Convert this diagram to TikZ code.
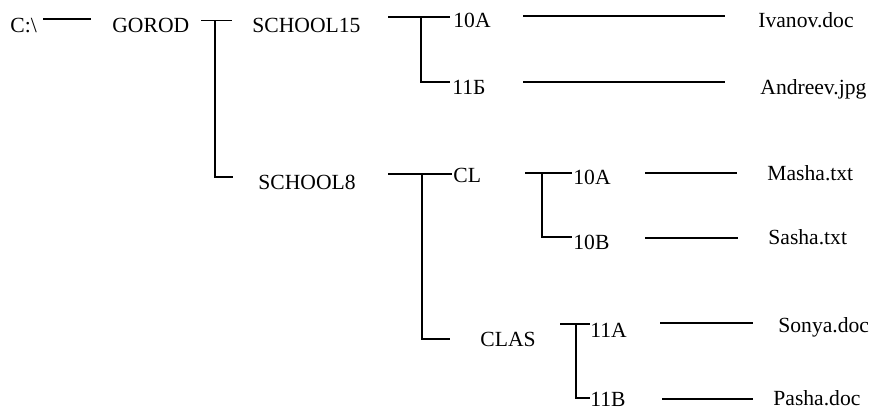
\documentclass[tikz,border=0pt]{standalone}
\usepackage{fontspec}
\setmainfont{Liberation Serif}
\usepackage{tikz}

\tikzset{
  entry/.style={anchor=base west, inner sep=0pt, font=\fontsize{10.8}{13}\selectfont},
  branch/.style={line width=0.9pt}
}

\begin{document}
\begin{tikzpicture}[x=0.5pt, y=-0.5pt]
        % Page frame (1 unit = 1 pixel of the picture)
        \useasboundingbox (0,0) rectangle (871,410);

        % Folder and file names
        \node[entry] (cdrive) at (10,33) {C:\textbackslash};
        \node[entry] (gorod) at (112,33) {GOROD};
        \node[entry] (school15) at (252,33) {SCHOOL15};
        \node[entry] (school8) at (258,190) {SCHOOL8};
        \node[entry] (k10a) at (453,28) {10A};
        \node[entry] (k11b) at (452,95) {11Б};
        \node[entry] (ivanov) at (758,28) {Ivanov.doc};
        \node[entry] (andreev) at (760,95) {Andreev.jpg};
        \node[entry] (cl) at (453,183) {CL};
        \node[entry] (cl10a) at (573,185) {10A};
        \node[entry] (cl10b) at (573,250) {10B};
        \node[entry] (masha) at (767,181) {Masha.txt};
        \node[entry] (sasha) at (768,245) {Sasha.txt};
        \node[entry] (clas) at (480,347) {CLAS};
        \node[entry] (cs11a) at (590,338) {11A};
        \node[entry] (cs11b) at (590,407) {11B};
        \node[entry] (sonya) at (778,333) {Sonya.doc};
        \node[entry] (pasha) at (773,406) {Pasha.doc};

        % Line ends and corners of the tree
        \coordinate (root-a) at (43,19);
        \coordinate (root-b) at (91,19);
        \coordinate (gor-l) at (201,20.5);
        \coordinate (gor-r) at (232,20.5);
        \coordinate (gor-t) at (215,20.5);
        \coordinate (gor-b) at (215,177);
        \coordinate (gor-e) at (233,177);
        \coordinate (s15-l) at (388,17);
        \coordinate (s15-r) at (450,17);
        \coordinate (s15-t) at (421,17);
        \coordinate (s15-b) at (421,82);
        \coordinate (s15-e) at (450,82);
        \coordinate (s8-l) at (388,174);
        \coordinate (s8-r) at (452,174);
        \coordinate (s8-t) at (422,174);
        \coordinate (s8-b) at (422,339);
        \coordinate (s8-e) at (450,339);
        \coordinate (cl-l) at (525,173);
        \coordinate (cl-r) at (572,173);
        \coordinate (cl-t) at (542,173);
        \coordinate (cl-b) at (542,237);
        \coordinate (cl-e) at (572,237);
        \coordinate (cs-l) at (560,324);
        \coordinate (cs-r) at (590,324);
        \coordinate (cs-t) at (576,324);
        \coordinate (cs-b) at (576,398);
        \coordinate (cs-e) at (590,398);
        \coordinate (f1-a) at (523,15.7);
        \coordinate (f1-b) at (725,15.7);
        \coordinate (f2-a) at (523,82);
        \coordinate (f2-b) at (725,82);
        \coordinate (f3-a) at (645,173);
        \coordinate (f3-b) at (737,173);
        \coordinate (f4-a) at (645,238);
        \coordinate (f4-b) at (738,238);
        \coordinate (f5-a) at (660,323);
        \coordinate (f5-b) at (753,323);
        \coordinate (f6-a) at (662,399);
        \coordinate (f6-b) at (753,399);

        % C:\ to GOROD
        \draw[branch] (root-a) -- (root-b);

        % GOROD splits into the two schools
        \draw[branch] (gor-l) -- (gor-r);
        \draw[branch] (gor-t) -- (gor-b) -- (gor-e);

        % SCHOOL15: 10A and 11B
        \draw[branch] (s15-l) -- (s15-r);
        \draw[branch] (s15-t) -- (s15-b) -- (s15-e);

        % SCHOOL8: CL and CLAS
        \draw[branch] (s8-l) -- (s8-r);
        \draw[branch] (s8-t) -- (s8-b) -- (s8-e);

        % CL: 10A and 10B
        \draw[branch] (cl-l) -- (cl-r);
        \draw[branch] (cl-t) -- (cl-b) -- (cl-e);

        % CLAS: 11A and 11B
        \draw[branch] (cs-l) -- (cs-r);
        \draw[branch] (cs-t) -- (cs-b) -- (cs-e);

        % Files
        \draw[branch] (f1-a) -- (f1-b);
        \draw[branch] (f2-a) -- (f2-b);
        \draw[branch] (f3-a) -- (f3-b);
        \draw[branch] (f4-a) -- (f4-b);
        \draw[branch] (f5-a) -- (f5-b);
        \draw[branch] (f6-a) -- (f6-b);

    \end{tikzpicture}
\end{document}
